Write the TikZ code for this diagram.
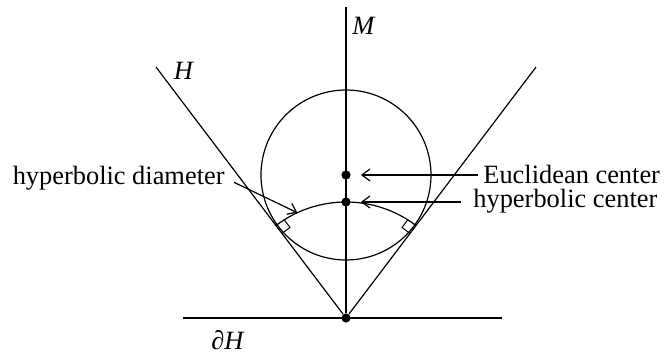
\documentclass[tikz,border=0pt]{standalone}
\usepackage{fontspec}
\setmainfont{Liberation Serif}
\usetikzlibrary{arrows.meta, calc}
\tikzset{
  geo/.style   = {line width=0.6pt},
  dot/.style   = {circle, fill, inner sep=0pt, minimum size=4.6pt},
  lbl/.style   = {font=\fontsize{13.2}{15}\selectfont, inner sep=0pt},
  flow/.style  = {-{Straight Barb[length=4pt, width=6pt]}, line width=0.6pt},
  rmark/.style = {line width=0.5pt},
}

\begin{document}
\begin{tikzpicture}[x=0.5pt, y=0.5pt]
    \useasboundingbox (-346,-40) rectangle (319,318);

    % vertex, axis and the two boundary lines of the wedge
    \node[dot] (O) at (0,0) {};
    \coordinate (Mtop) at (0,311);
    \coordinate (bl) at (-163,0);
    \coordinate (br) at (156,0);
    \coordinate (Hl) at (127.13:314.8);
    \coordinate (Hr) at (52.87:314.8);
    \draw[geo] (bl) -- (br);
    \draw[geo] (O) -- (Mtop);
    \draw[geo] (O) -- (Hl);
    \draw[geo] (O) -- (Hr);

    % inscribed circle and the geodesic through the tangent points
    \draw[geo] (0,143) circle[radius=85];
    \draw[geo] (52.87:116) arc[start angle=52.87, end angle=127.13, radius=116];

    \begin{scope}[rotate=52.87]
      \draw[rmark] (106,0) -- (106,10) -- (116,10);
    \end{scope}
    \begin{scope}[rotate=127.13]
      \draw[rmark] (106,0) -- (106,-10) -- (116,-10);
    \end{scope}

    \node[dot] (ecdot) at (0,143) {};
    \node[dot] (hcdot) at (0,116) {};
    \coordinate (hdtip) at (114.8:116);

    % labels
    \node[lbl] (Mlbl) at (18,292) {\textit{M}};
    \node[lbl] (Hlbl) at (-162,247) {\textit{H}};
    \node[lbl] (dHlbl) at (-118,-22) {\textit{∂H}};
    \node[lbl, anchor=east] (hyd) at (-121,140) {hyperbolic diameter};
    \node[lbl, anchor=west] (euc) at (137,144) {Euclidean center};
    \node[lbl, anchor=west] (hyc) at (127,117) {hyperbolic center};

    \draw[flow, shorten <=5pt] (hyd.east) -- (hdtip);
    \draw[flow, shorten <=2.5pt, shorten >=5pt] (euc.west |- ecdot) -- (ecdot);
    \draw[flow, shorten <=6pt, shorten >=5pt] (hyc.west |- hcdot) -- (hcdot);
  \end{tikzpicture}
\end{document}
